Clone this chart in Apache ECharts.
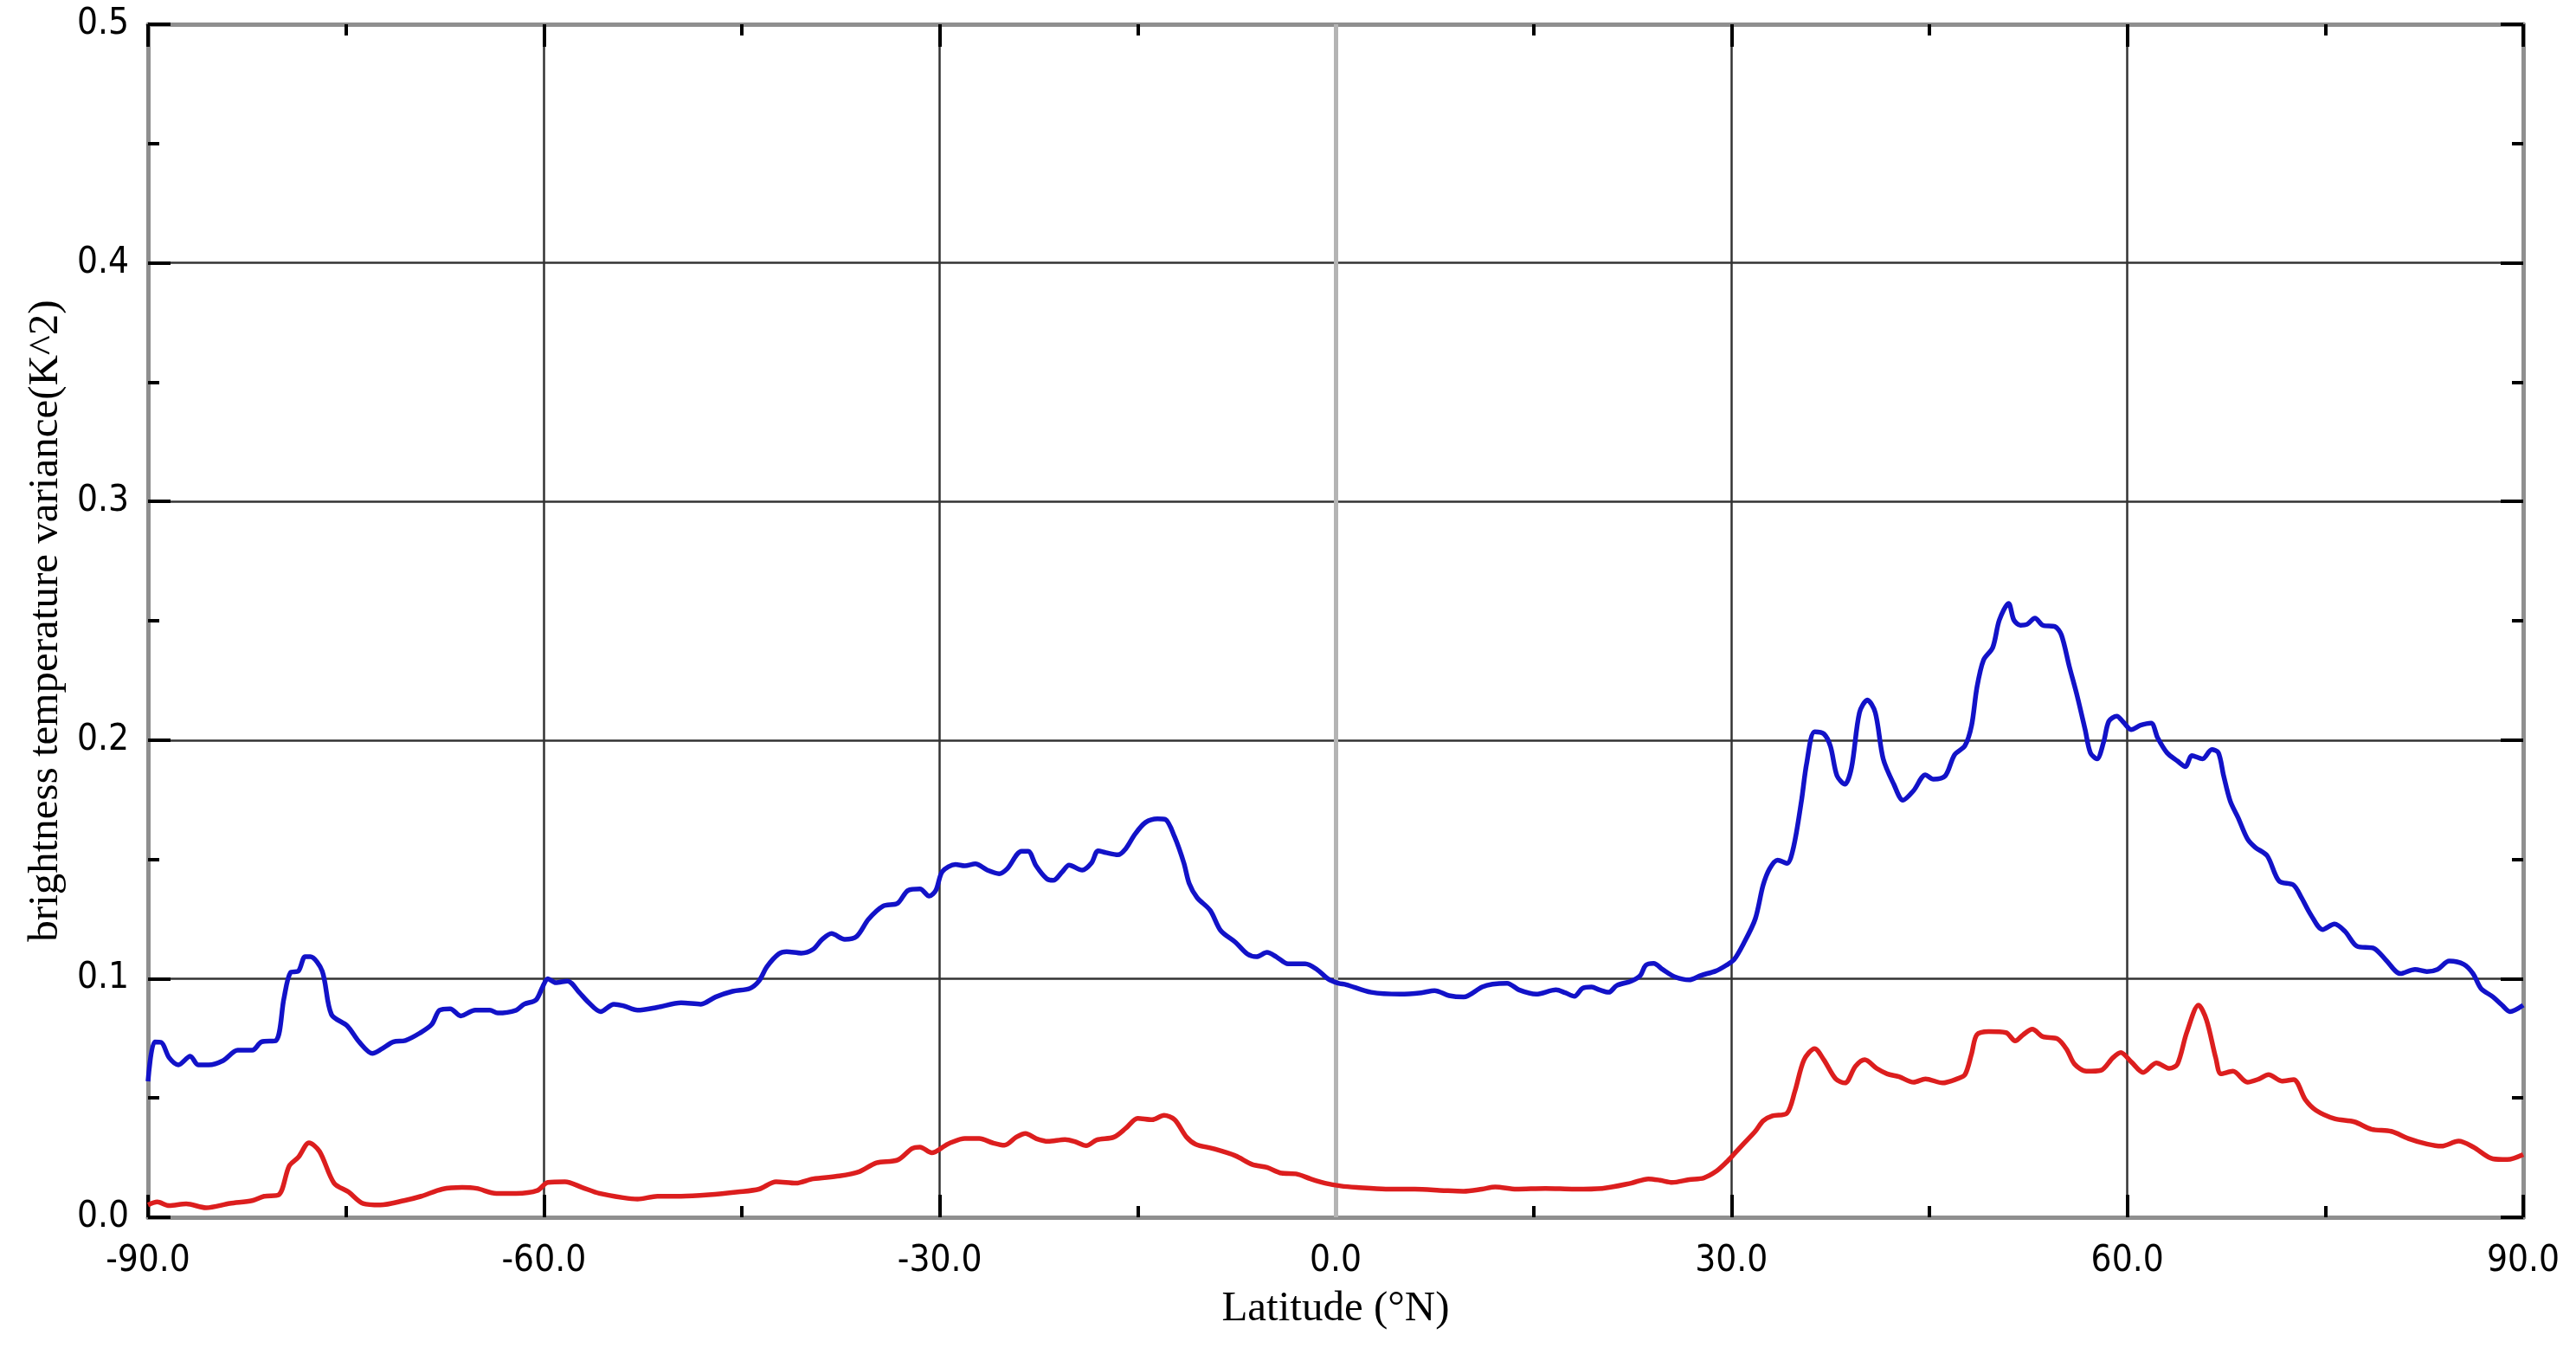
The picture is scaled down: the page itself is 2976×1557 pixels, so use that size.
<!DOCTYPE html>
<html>
<head>
<meta charset="utf-8">
<title>brightness temperature variance</title>
<script src="https://cdn.jsdelivr.net/npm/echarts@6/dist/echarts.min.js"></script>
<style>
  html, body { margin: 0; padding: 0; background: #fff; }
  #chart { width: 2976px; height: 1557px; }
</style>
</head>
<body>
<div id="chart"></div>
<script>
// blue curve (upper)
const blueLat = [-90, -89.5, -89, -88.4, -87.7, -86.8, -86.2, -85.4, -84.3, -83.2, -82.1, -81.4, -80.3, -79.7, -79.2, -78.6, -78.1, -77.7, -76.8, -76.1,
  -74.9, -74, -73, -72.3, -71.4, -70.5, -69.4, -68.5, -67.9, -67.1, -66.3, -65.2, -64.1, -63.5, -62.1, -61.5, -60.6, -60.1, -59.7, -59.1,
  -58.2, -57.3, -56.7, -55.7, -54.7, -54, -52.9, -51.4, -49.6, -48.1, -47, -45.7, -44.4, -43.7, -43.1, -42.2, -41.6, -40.5, -39.6, -38.9,
  -38.2, -37.2, -36.3, -35.4, -34.3, -33.2, -32.4, -31.5, -30.8, -30.3, -29.8, -28.8, -28.1, -27.3, -26.4, -25.5, -24.9, -23.8, -23.3, -22.7,
  -21.9, -21.4, -20.7, -20.2, -19.2, -18.5, -18, -17.4, -16.5, -15.9, -15.2, -14.4, -13.5, -12.9, -12.2, -11.5, -11.1, -10.5, -9.5, -8.7,
  -7.6, -6.7, -6, -5.2, -4.5, -3.6, -2.3, -1.4, -0.6, 0.2, 0.8, 2.7, 4.9, 6.5, 7.5, 8.6, 9.7, 11.1, 11.9, 13,
  13.9, 15.2, 16.7, 17.4, 18.1, 18.7, 19.4, 20, 20.7, 21.3, 22.4, 23.1, 23.5, 24.1, 24.8, 25.7, 26.8, 27.7, 28.8, 29.6,
  30.2, 30.9, 31.8, 32.4, 32.9, 33.5, 34.2, 34.7, 35.3, 35.7, 36.3, 37, 37.5, 38, 38.6, 39.1, 39.7, 40.3, 40.9, 41.5,
  42.3, 43, 43.8, 44.7, 45.3, 46.2, 46.9, 47.7, 48.2, 48.6, 49.1, 49.8, 50.3, 51, 51.4, 51.9, 52.4, 53, 53.6, 54.5,
  55, 55.6, 56.2, 56.8, 57.2, 57.7, 58.2, 58.6, 59.2, 59.7, 60.3, 61, 61.8, 62.3, 63, 63.8, 64.4, 64.9, 65.7, 66.4,
  66.9, 67.3, 67.8, 68.4, 69.1, 69.7, 70.6, 71.5, 72.6, 73.2, 73.9, 74.8, 75.7, 76.5, 77.4, 78.7, 79.6, 80.7, 81.8, 82.7,
  83.5, 84.4, 85.5, 86.2, 86.8, 87.7, 88.4, 89, 90];
const blueVal = [0.057, 0.0735, 0.0733, 0.0669, 0.0639, 0.0675, 0.0639, 0.0639, 0.0657, 0.070, 0.070, 0.0735, 0.0741, 0.0917, 0.1026, 0.1032, 0.1092, 0.1092, 0.1032, 0.085,
  0.0802, 0.0735, 0.0687, 0.0705, 0.0735, 0.0741, 0.0772, 0.0808, 0.0868, 0.0874, 0.0844, 0.0868, 0.0868, 0.0856, 0.0868, 0.0893, 0.0911, 0.0965, 0.100, 0.0983,
  0.099, 0.0941, 0.0905, 0.0862, 0.0893, 0.0887, 0.0868, 0.088, 0.0899, 0.0893, 0.0923, 0.0947, 0.0959, 0.099, 0.105, 0.1104, 0.1113, 0.1107, 0.1123, 0.1165,
  0.1189, 0.1165, 0.1177, 0.1249, 0.1304, 0.1316, 0.137, 0.1376, 0.1346, 0.137, 0.1449, 0.1479, 0.1473, 0.1481, 0.1455, 0.144, 0.146, 0.1534, 0.1534, 0.1473,
  0.1419, 0.1412, 0.1449, 0.1476, 0.1455, 0.1485, 0.1536, 0.1528, 0.1519, 0.1545, 0.1606, 0.1655, 0.167, 0.1667, 0.1594, 0.1485, 0.14, 0.134, 0.1286, 0.1201,
  0.1153, 0.1104, 0.1092, 0.111, 0.1092, 0.1062, 0.1062, 0.1038, 0.100, 0.0981, 0.0975, 0.0943, 0.0935, 0.0941, 0.095, 0.0929, 0.0923, 0.0965, 0.0977, 0.0981,
  0.0953, 0.0935, 0.0953, 0.0941, 0.0926, 0.0959, 0.0965, 0.0953, 0.0943, 0.0971, 0.099, 0.1014, 0.1056, 0.1064, 0.1038, 0.1008, 0.0995, 0.1014, 0.1032, 0.1056,
  0.108, 0.1145, 0.125, 0.1392, 0.1462, 0.1497, 0.1483, 0.155, 0.1744, 0.1903, 0.2035, 0.2026, 0.1974, 0.185, 0.1815, 0.1885, 0.2115, 0.2168, 0.2115, 0.1921,
  0.1815, 0.1748, 0.1788, 0.1854, 0.1836, 0.185, 0.1938, 0.1977, 0.2062, 0.222, 0.2335, 0.2388, 0.2503, 0.2573, 0.2503, 0.2481, 0.2485, 0.2511, 0.2481, 0.2476,
  0.2441, 0.2309, 0.2185, 0.2044, 0.1947, 0.1921, 0.1991, 0.2079, 0.21, 0.2075, 0.2044, 0.2062, 0.2071, 0.2009, 0.1947, 0.1912, 0.1889, 0.1935, 0.1921, 0.196,
  0.1947, 0.185, 0.1744, 0.1674, 0.1586, 0.155, 0.1515, 0.1409, 0.1392, 0.1339, 0.1268, 0.1206, 0.1229, 0.1198, 0.1136, 0.1127, 0.1078, 0.1021, 0.1039, 0.103,
  0.1039, 0.1074, 0.106, 0.1021, 0.0959, 0.0924, 0.0889, 0.0862, 0.0889];

// red curve (lower)
const redLat = [-90, -89.3, -88.4, -87.1, -85.6, -83.8, -82.1, -81.2, -80.1, -79.3, -78.6, -77.8, -77, -75.9, -74.8, -73.7, -72.4, -70.6, -69.3, -67.7,
  -66.2, -65.1, -63.6, -62.1, -60.5, -59.7, -58.4, -57.1, -55.8, -54, -52.9, -51.4, -49.6, -47.5, -45.3, -43.7, -42.4, -40.9, -39.6, -37.6,
  -36.1, -34.8, -33.2, -32.1, -31.5, -30.6, -29.6, -29.2, -28.1, -27, -26, -25.1, -24.2, -23.5, -22.7, -21.8, -20.5, -19.8, -18.9, -18.1,
  -16.8, -15.9, -15, -13.9, -13, -12.2, -11.3, -10.6, -9.3, -7.6, -6.3, -5.2, -4.1, -3, -1.9, -0.8, 0.4, 1.6, 3.8, 6,
  8.2, 9.7, 11.1, 12.1, 13.7, 15.9, 18.1, 20.2, 22.4, 23.7, 24.6, 25.5, 26.8, 27.9, 28.8, 29.6, 30.2, 30.9, 31.8, 32.4,
  33.1, 34.2, 34.8, 35.5, 36.3, 37, 37.9, 38.6, 39.4, 40.1, 41, 41.8, 42.7, 43.8, 44.7, 46, 47.1, 47.7, 48.2, 48.6,
  49.5, 50.8, 51.5, 52.1, 52.8, 53.6, 54.7, 55.4, 56, 56.9, 58, 58.9, 59.5, 60.3, 61.2, 62.2, 63.2, 63.8, 64.5, 65.4,
  66, 66.7, 67.1, 68, 69.1, 70, 70.7, 71.7, 72.6, 73.5, 74.3, 75.7, 77.2, 78.5, 80, 81.3, 82.7, 83.8, 85.1, 86.2,
  87.7, 88.8, 90];
const redVal = [0.0052, 0.0064, 0.0049, 0.0056, 0.004, 0.0058, 0.007, 0.0088, 0.0094, 0.0215, 0.0252, 0.0312, 0.0276, 0.0143, 0.0106, 0.0058, 0.0052, 0.007, 0.0088, 0.0118,
  0.0125, 0.0121, 0.010, 0.010, 0.0112, 0.0146, 0.0149, 0.0125, 0.010, 0.0082, 0.0076, 0.0088, 0.0088, 0.0094, 0.0106, 0.0118, 0.0149, 0.0143, 0.0161, 0.0173,
  0.0191, 0.0228, 0.024, 0.0288, 0.0294, 0.027, 0.030, 0.0312, 0.033, 0.033, 0.0312, 0.0302, 0.0336, 0.0351, 0.033, 0.0318, 0.0326, 0.0318, 0.030, 0.0324,
  0.0336, 0.0373, 0.0415, 0.0409, 0.0427, 0.0409, 0.0336, 0.0306, 0.0288, 0.0258, 0.0221, 0.0209, 0.0185, 0.0182, 0.0161, 0.0143, 0.0131, 0.0125, 0.0118, 0.0118,
  0.0112, 0.0109, 0.0118, 0.0127, 0.0118, 0.0121, 0.0118, 0.0121, 0.0143, 0.0161, 0.0155, 0.0146, 0.0158, 0.0165, 0.0191, 0.023, 0.0265, 0.0307, 0.036, 0.0404,
  0.0425, 0.0436, 0.0527, 0.066, 0.0707, 0.066, 0.058, 0.0563, 0.0633, 0.066, 0.0624, 0.0601, 0.0589, 0.0566, 0.058, 0.0563, 0.058, 0.0598, 0.0686, 0.0765,
  0.0778, 0.0774, 0.0739, 0.0765, 0.0788, 0.0757, 0.0748, 0.0704, 0.0642, 0.0612, 0.0616, 0.0668, 0.069, 0.0651, 0.0607, 0.0647, 0.0624, 0.0642, 0.0774, 0.0889,
  0.0827, 0.0668, 0.0601, 0.0612, 0.0566, 0.058, 0.0598, 0.0571, 0.0577, 0.0492, 0.0448, 0.0413, 0.040, 0.0369, 0.036, 0.033, 0.0307, 0.0298, 0.0319, 0.0295,
  0.0245, 0.0242, 0.0263];

const xTitle = 'Latitude (°N)';
const yTitle = 'brightness temperature variance(K^2)';

const labelFont = "'Liberation Sans Narrow', 'DejaVu Sans Condensed', sans-serif";
const titleFont = "'Liberation Serif', 'DejaVu Serif', serif";

function pairs(xs, ys) {
  return xs.map((x, i) => [x, ys[i]]);
}

const frame = { show: true, onZero: false, lineStyle: { color: '#8f8f8f', width: 5 } };
const tick = { show: true, inside: true, length: 26, lineStyle: { color: '#000', width: 4 } };
const minor = { show: true, splitNumber: 2, length: 13, lineStyle: { color: '#000', width: 4 } };
const grid = { show: true, lineStyle: { color: '#333', width: 2.5 } };

const chart = echarts.init(document.getElementById('chart'));

const option = {
  animation: false,
  backgroundColor: '#fff',
  grid: { left: 171, right: 61, top: 28, bottom: 151, containLabel: false },
  xAxis: [
    {
      type: 'value', position: 'bottom', min: -90, max: 90, interval: 30,
      name: xTitle, nameLocation: 'middle', nameGap: 82,
      nameTextStyle: { fontFamily: titleFont, fontSize: 49, color: '#000' },
      axisLine: frame, axisTick: tick, minorTick: minor, splitLine: grid,
      axisLabel: { formatter: v => v.toFixed(1), fontFamily: labelFont, fontSize: 42, color: '#000', margin: 30 }
    },
    {
      type: 'value', position: 'top', min: -90, max: 90, interval: 30,
      axisLine: frame, axisTick: tick, minorTick: minor,
      splitLine: { show: false }, axisLabel: { show: false }
    }
  ],
  yAxis: [
    {
      type: 'value', position: 'left', min: 0, max: 0.5, interval: 0.1,
      name: yTitle, nameLocation: 'middle', nameGap: 92,
      nameTextStyle: { fontFamily: titleFont, fontSize: 49, color: '#000' },
      axisLine: frame, axisTick: tick, minorTick: minor, splitLine: grid,
      axisLabel: { formatter: v => v.toFixed(1), fontFamily: labelFont, fontSize: 42, color: '#000', margin: 22 }
    },
    {
      type: 'value', position: 'right', min: 0, max: 0.5, interval: 0.1,
      axisLine: frame, axisTick: tick, minorTick: minor,
      splitLine: { show: false }, axisLabel: { show: false }
    }
  ],
  series: [
    {
      name: 'blue', type: 'line', xAxisIndex: 0, yAxisIndex: 0,
      data: pairs(blueLat, blueVal),
      showSymbol: false, smooth: 0.3,
      lineStyle: { color: '#1212c8', width: 5.5 },
      // light grey equator line behind the curves
      markLine: {
        silent: true, symbol: 'none', z: 1,
        label: { show: false },
        lineStyle: { color: '#b4b4b4', width: 5, type: 'solid' },
        data: [{ xAxis: 0 }]
      },
      z: 3
    },
    {
      name: 'red', type: 'line', xAxisIndex: 0, yAxisIndex: 0,
      data: pairs(redLat, redVal),
      showSymbol: false, smooth: 0.3,
      lineStyle: { color: '#dc1e1e', width: 5.5 },
      z: 3
    }
  ]
};

chart.setOption(option);
</script>
</body>
</html>
